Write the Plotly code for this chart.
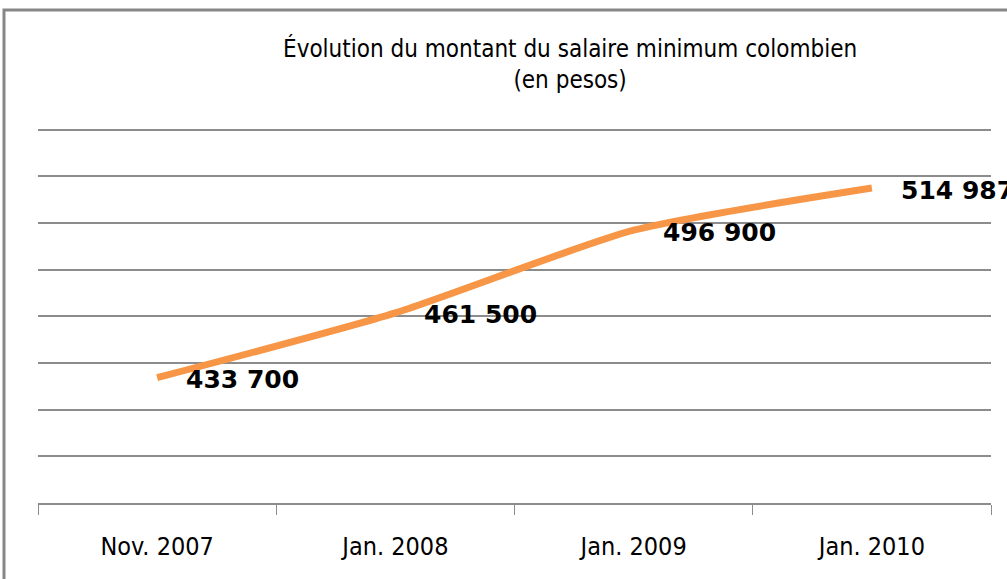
import plotly.graph_objects as go

categories = ["Nov. 2007", "Jan. 2008", "Jan. 2009", "Jan. 2010"]
values = [433700, 461500, 496900, 514987]
value_labels = ["433 700", "461 500", "496 900", "514 987"]
title_text = "Évolution du montant du salaire minimum colombien<br>(en pesos)"

W, H = 1007, 579
L, R, T, B = 38, 16, 125, 76
pw = W - L - R
ph = H - T - B

def px_x(px):
    return (px - L) / pw

def px_y(py):
    return (H - B - py) / ph

fig = go.Figure()
fig.add_trace(go.Scatter(
    x=categories, y=values, mode="lines",
    line=dict(color="#F79646", width=7, shape="spline", smoothing=0.6),
    hoverinfo="skip", showlegend=False,
))

for c, v, t in zip(categories, values, value_labels):
    fig.add_annotation(
        x=c, y=v, text=t, showarrow=False, xanchor="left", yanchor="middle",
        xshift=27, yshift=-2,
        font=dict(family="DejaVu Sans", size=25, color="#000000", weight="bold"),
    )

fig.add_annotation(
    xref="paper", yref="paper", x=px_x(570), y=px_y(64), text=title_text,
    showarrow=False, xanchor="center", yanchor="middle",
    font=dict(family="DejaVu Sans Condensed", size=24, color="#000000"),
)

fig.add_shape(
    type="rect", xref="paper", yref="paper",
    x0=px_x(4), x1=px_x(1100), y0=px_y(700), y1=px_y(10),
    line=dict(color="#878787", width=3), fillcolor="rgba(0,0,0,0)", layer="below",
)

fig.update_layout(
    width=W, height=H,
    margin=dict(l=L, r=R, t=T, b=B),
    paper_bgcolor="white", plot_bgcolor="white",
    xaxis=dict(
        type="category", range=[-0.5, 3.5], showgrid=False, zeroline=False,
        showline=True, linecolor="#8c8c8c", linewidth=2,
        ticks="outside", tickson="boundaries", ticklen=10, tickcolor="#8c8c8c", tickwidth=1,
        tickfont=dict(family="DejaVu Sans Condensed", size=25, color="#000000"),
        ticklabelstandoff=20,
    ),
    yaxis=dict(
        range=[380000, 542000], dtick=20000, tick0=380000, showgrid=True,
        gridcolor="#8c8c8c", gridwidth=1.5, showticklabels=False, zeroline=False,
        showline=False, ticks="",
    ),
)

fig.write_html(
    "out.html",
    config={"displayModeBar": False},
    post_script="document.body.style.margin='0';document.body.style.overflow='hidden';",
)
